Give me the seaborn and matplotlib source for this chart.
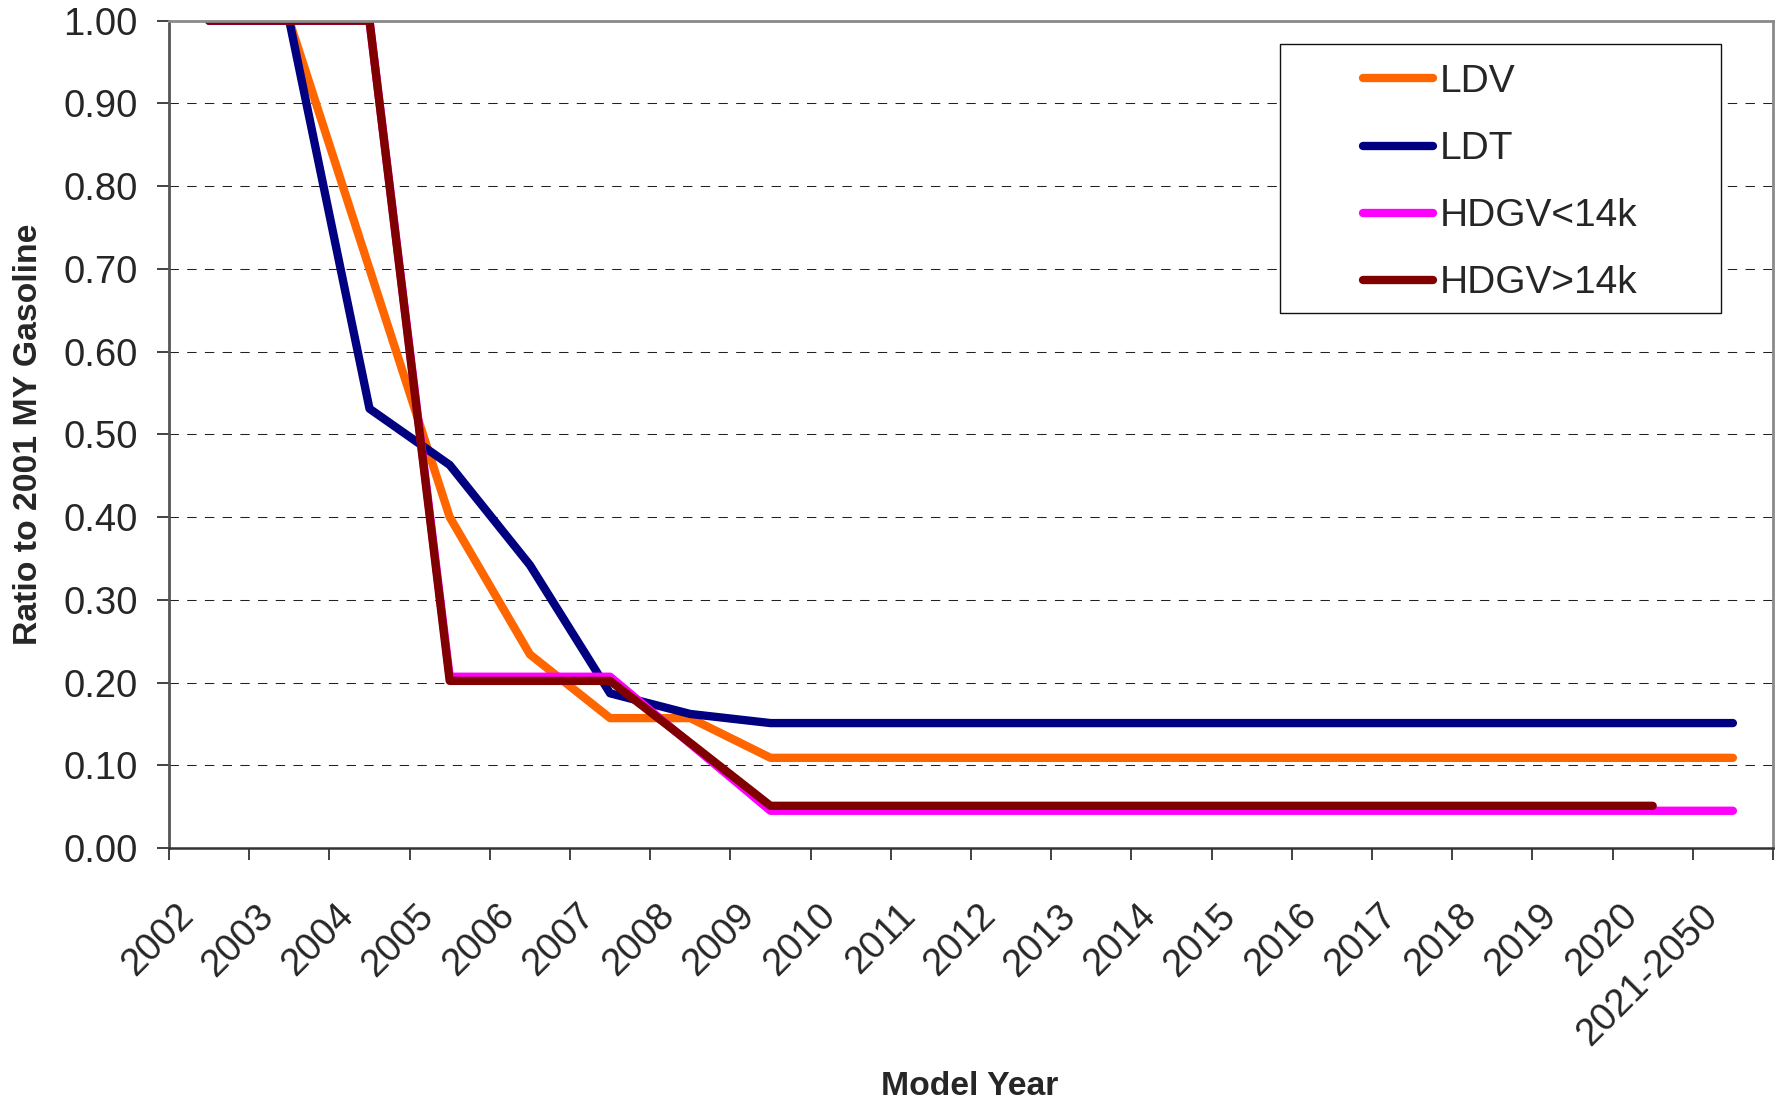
import numpy as np
import pandas as pd
import matplotlib
matplotlib.use("Agg")
import matplotlib.pyplot as plt
import seaborn as sns
from matplotlib.patches import Rectangle

# Model-year categories (the last one covers a range of years)
model_years = ["2002", "2003", "2004", "2005", "2006", "2007", "2008", "2009",
               "2010", "2011", "2012", "2013", "2014", "2015", "2016", "2017",
               "2018", "2019", "2020", "2021-2050"]

# Ratio to 2001 MY gasoline, by vehicle class
ldv = [1.00, 1.00, 0.70, 0.40, 0.234, 0.157, 0.157, 0.109,
       0.109, 0.109, 0.109, 0.109, 0.109, 0.109, 0.109, 0.109,
       0.109, 0.109, 0.109, 0.109]
ldt = [1.00, 1.00, 0.531, 0.463, 0.342, 0.187, 0.162, 0.151,
       0.151, 0.151, 0.151, 0.151, 0.151, 0.151, 0.151, 0.151,
       0.151, 0.151, 0.151, 0.151]
hdgv_light = [1.00, 1.00, 1.00, 0.207, 0.207, 0.207, 0.126, 0.045,
              0.045, 0.045, 0.045, 0.045, 0.045, 0.045, 0.045, 0.045,
              0.045, 0.045, 0.045, 0.045]
hdgv_heavy = [1.00, 1.00, 1.00, 0.202, 0.202, 0.202, 0.127, 0.051,
              0.051, 0.051, 0.051, 0.051, 0.051, 0.051, 0.051, 0.051,
              0.051, 0.051, 0.051, None]

series_names = ["LDV", "LDT", "HDGV<14k", "HDGV>14k"]
series_colors = ["#FF6600", "#000080", "#FF00FF", "#800000"]
y_ticks = [0.0, 0.1, 0.2, 0.3, 0.4, 0.5, 0.6, 0.7, 0.8, 0.9, 1.0]

rows = []
for name, values in zip(series_names, [ldv, ldt, hdgv_light, hdgv_heavy]):
    for pos, (year, val) in enumerate(zip(model_years, values)):
        if val is not None:
            rows.append({"pos": pos, "year": year, "series": name, "ratio": val})
df = pd.DataFrame(rows)

sns.set_style("white")
plt.rcParams["font.family"] = ["Liberation Sans", "DejaVu Sans"]

W, H = 1781, 1102
fig = plt.figure(figsize=(W / 100, H / 100), dpi=100)
ax = fig.add_axes([169 / W, 1 - 848 / H, 1604 / W, 827.3 / H])

sns.lineplot(data=df, x="pos", y="ratio", hue="series", hue_order=series_names,
             palette=series_colors, linewidth=6, estimator=None, sort=True,
             solid_capstyle="round", ax=ax, zorder=3)

n = len(model_years)
ax.set_xlim(-0.5, n - 0.5)
ax.set_ylim(0, 1)

# category boundaries carry the tick marks, labels sit between them
ax.set_xticks(np.arange(n + 1) - 0.5)
ax.set_xticklabels([])
ax.set_xticks(np.arange(n) - 0.175, labels=model_years, minor=True)
ax.tick_params(axis="x", which="major", direction="out", length=8.6, width=1.2,
               color="#222222", bottom=True)
ax.tick_params(axis="x", which="minor", length=0, pad=50, labelsize=27.5)
plt.setp(ax.get_xticklabels(minor=True), rotation=45, ha="right",
         va="baseline", rotation_mode="anchor")

ax.set_yticks(y_ticks, labels=[f"{v:.2f}" for v in y_ticks])
ax.tick_params(axis="y", direction="out", length=8.6, width=1.2,
               color="#222222", left=True, pad=14, labelsize=27.5)

ax.grid(axis="y", color="#222222", linewidth=0.75, linestyle=(0, (9, 8)))
ax.grid(axis="x", visible=False)
ax.set_axisbelow(True)

for side in ["top", "right"]:
    ax.spines[side].set_color("#8a8a8a")
    ax.spines[side].set_linewidth(2.0)
ax.spines["left"].set_color("#555555")
ax.spines["left"].set_linewidth(2.0)
ax.spines["bottom"].set_color("#333333")
ax.spines["bottom"].set_linewidth(1.8)
for sp in ax.spines.values():
    sp.set_zorder(5)

ax.set_xlabel("")
ax.set_ylabel("")
fig.text(37 / W, 1 - 434 / H, "Ratio to 2001 MY Gasoline", rotation=90,
         ha="center", va="baseline", rotation_mode="anchor",
         fontsize=24.3, fontweight="bold")
fig.text(970 / W, 1 - 1095 / H, "Model Year", ha="center", va="baseline",
         fontsize=24.3, fontweight="bold")

# legend with its own framed box
ax.add_patch(Rectangle((0.6927, 0.6467), 0.2749, 0.3251, transform=ax.transAxes,
                       facecolor="white", edgecolor="#111111", linewidth=1.0,
                       zorder=6))
handles, labels = ax.get_legend_handles_labels()
ax.get_legend().remove() if ax.get_legend() else None
leg = ax.legend(handles, labels, loc="upper left",
                bbox_to_anchor=((1363 - 169) / 1604, 0.9476),
                frameon=False, fontsize=28, borderpad=0, borderaxespad=0,
                handlelength=1.8, handletextpad=0.18, labelspacing=0.80)
leg.set_zorder(7)
for line in leg.get_lines():
    line.set_linewidth(6)
    line.set_solid_capstyle("round")

fig.savefig("out.png", dpi=100, facecolor="white")
